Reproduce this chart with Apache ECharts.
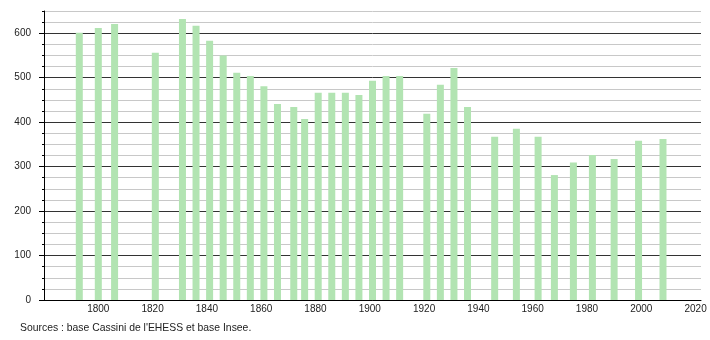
<!DOCTYPE html>
<html>
<head>
<meta charset="utf-8">
<script src="https://cdn.jsdelivr.net/npm/echarts@6/dist/echarts.min.js"></script>
<style>
html,body{margin:0;padding:0;background:#fff;}
#c{width:710px;height:340px;}
</style>
</head>
<body>
<div id="c"></div>
<script>
const years = [1793,1800,1806,1821,1831,1836,1841,1846,1851,1856,1861,1866,1872,1876,1881,1886,1891,1896,1901,1906,1911,1921,1926,1931,1936,1946,1954,1962,1968,1975,1982,1990,1999,2008];
const population = [601,612,621,556,632,617,583,550,511,504,481,441,434,407,466,466,466,461,493,504,504,419,484,522,434,367,385,367,281,309,326,317,358,362];
const yMajorTicks = [0,100,200,300,400,500,600];
const sourceText = "Sources : base Cassini de l'EHESS et base Insee.";

const chart = echarts.init(document.getElementById('c'), null, {renderer:'canvas'});
const font = 'Liberation Sans, Arial, sans-serif';
chart.setOption({
  animation:false,
  backgroundColor:'#fff',
  grid:{left:44, right:9, top:11, bottom:40, containLabel:false},
  xAxis:{
    type:'value', min:1780, max:2022, interval:20,
    axisLine:{show:true, lineStyle:{color:'#000', width:1}},
    axisTick:{show:false},
    splitLine:{show:false},
    axisLabel:{
      margin:4, color:'#222', fontSize:10, fontFamily:font,
      formatter:function(v){ return (v % 20 === 0 && v > 1780) ? String(v) : ''; }
    }
  },
  yAxis:[{
    type:'value', min:0, max:650, interval:25,
    axisLine:{show:true, lineStyle:{color:'#000', width:1}},
    axisTick:{show:true, length:2, lineStyle:{color:'#000'}},
    splitLine:{show:true, lineStyle:{color:['#333','#c8c8c8','#c8c8c8','#c8c8c8'], width:1}},
    axisLabel:{
      margin:13, color:'#222', fontSize:10, fontFamily:font,
      formatter:function(v){ return (v % 100 === 0) ? String(v) : ''; }
    }
  },{
    type:'value', min:0, max:650, position:'left',
    axisLine:{show:false},
    axisTick:{show:true, length:5, customValues:yMajorTicks, lineStyle:{color:'#000'}},
    splitLine:{show:false},
    axisLabel:{show:false}
  }],
  series:[{
    type:'bar',
    barWidth:7,
    itemStyle:{color:'#b2e4b2'},
    data: years.map((y,i)=>[y, population[i]])
  }],
  graphic:[{
    type:'text', left:20, top:323,
    style:{text:sourceText, fill:'#222', font:'10.4px ' + font}
  }]
});
</script>
</body>
</html>
